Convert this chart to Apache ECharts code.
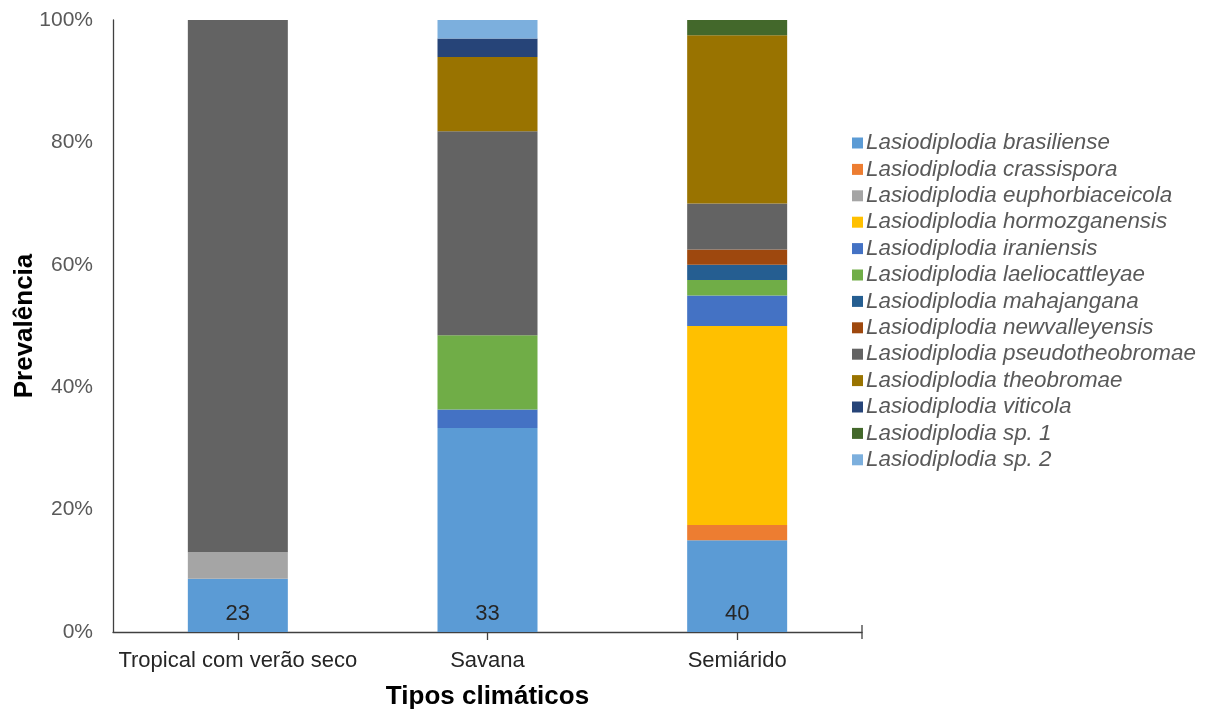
<!DOCTYPE html>
<html>
<head>
<meta charset="utf-8">
<script src="https://cdn.jsdelivr.net/npm/echarts@6/dist/echarts.min.js"></script>
<style>
  html, body { margin: 0; padding: 0; background: #fff; }
  #chart { width: 1208px; height: 713px; }
</style>
</head>
<body>
<div id="chart"></div>
<script>
// Climate types on the x axis
const categories = ['Tropical com verão seco', 'Savana', 'Semiárido'];

// Species names (legend order = stacking order, bottom to top)
const species = [
  'Lasiodiplodia brasiliense',
  'Lasiodiplodia crassispora',
  'Lasiodiplodia euphorbiaceicola',
  'Lasiodiplodia hormozganensis',
  'Lasiodiplodia iraniensis',
  'Lasiodiplodia laeliocattleyae',
  'Lasiodiplodia mahajangana',
  'Lasiodiplodia newvalleyensis',
  'Lasiodiplodia pseudotheobromae',
  'Lasiodiplodia theobromae',
  'Lasiodiplodia viticola',
  'Lasiodiplodia sp. 1',
  'Lasiodiplodia sp. 2'
];

// Isolate counts per species for each climate type
const brasiliense      = [2, 11, 6];
const crassispora      = [0, 0, 1];
const euphorbiaceicola = [1, 0, 0];
const hormozganensis   = [0, 0, 13];
const iraniensis       = [0, 1, 2];
const laeliocattleyae  = [0, 4, 1];
const mahajangana      = [0, 0, 1];
const newvalleyensis   = [0, 0, 1];
const pseudotheobromae = [20, 11, 3];
const theobromae       = [0, 4, 11];
const viticola         = [0, 1, 0];
const sp1              = [0, 0, 1];
const sp2              = [0, 1, 0];

const counts = [brasiliense, crassispora, euphorbiaceicola, hormozganensis, iraniensis,
  laeliocattleyae, mahajangana, newvalleyensis, pseudotheobromae, theobromae,
  viticola, sp1, sp2];

const colors = ['#5B9BD5', '#ED7D31', '#A5A5A5', '#FFC000', '#4472C4', '#70AD47',
  '#255E91', '#9E480E', '#636363', '#997300', '#264478', '#43682B', '#7CAFDD'];

// Number of isolates per climate type (shown at the bottom of each bar)
const totals = categories.map((_, i) => counts.reduce((s, arr) => s + arr[i], 0));

const FONT = '"Liberation Sans", Arial, sans-serif';

const series = species.map((name, k) => ({
  name: name,
  type: 'bar',
  stack: 'total',
  barWidth: 100,
  itemStyle: { color: colors[k] },
  emphasis: { disabled: true },
  data: counts[k].map((v, i) => (v / totals[i]) * 100),
  label: k === 0 ? {
    show: true,
    position: 'insideBottom',
    distance: 7,
    formatter: p => String(totals[p.dataIndex]),
    fontFamily: FONT,
    fontSize: 22,
    color: '#262626'
  } : { show: false }
}));

const chart = echarts.init(document.getElementById('chart'));
chart.setOption({
  animation: false,
  backgroundColor: '#fff',
  grid: { left: 113, right: 346, top: 20, bottom: 81, containLabel: false, outerBoundsMode: 'none' },
  legend: {
    orient: 'vertical',
    left: 847,
    top: 127,
    icon: 'rect',
    itemWidth: 11,
    itemHeight: 11,
    itemGap: 4.4,
    textStyle: { fontFamily: FONT, fontSize: 22.4, fontStyle: 'italic', color: '#595959', lineHeight: 18, padding: [0, 0, 0, -2] },
    data: species
  },
  xAxis: {
    type: 'category',
    data: categories,
    name: 'Tipos climáticos',
    nameLocation: 'middle',
    nameMoveOverlap: false,
    nameGap: 52,
    nameTextStyle: { fontFamily: FONT, fontSize: 26, fontWeight: 'bold', color: '#000' },
    axisLine: { show: true, lineStyle: { color: '#404040', width: 1.3 }, symbol: ['none', 'rect'], symbolSize: [14, 1.3] },
    axisTick: { show: true, alignWithLabel: true, length: 8, lineStyle: { color: '#404040', width: 1.3 } },
    axisLabel: { fontFamily: FONT, fontSize: 22, color: '#262626', margin: 18, interval: 0 }
  },
  yAxis: {
    type: 'value',
    min: 0,
    max: 100,
    interval: 20,
    name: 'Prevalência',
    nameLocation: 'middle',
    nameMoveOverlap: false,
    nameGap: 75,
    nameTextStyle: { fontFamily: FONT, fontSize: 26, fontWeight: 'bold', color: '#000' },
    axisLine: { show: true, lineStyle: { color: '#404040', width: 1.3 } },
    axisTick: { show: false },
    splitLine: { show: false },
    axisLabel: { fontFamily: FONT, fontSize: 21, color: '#595959', margin: 20, formatter: '{value}%' }
  },
  series: series
});
</script>
</body>
</html>
